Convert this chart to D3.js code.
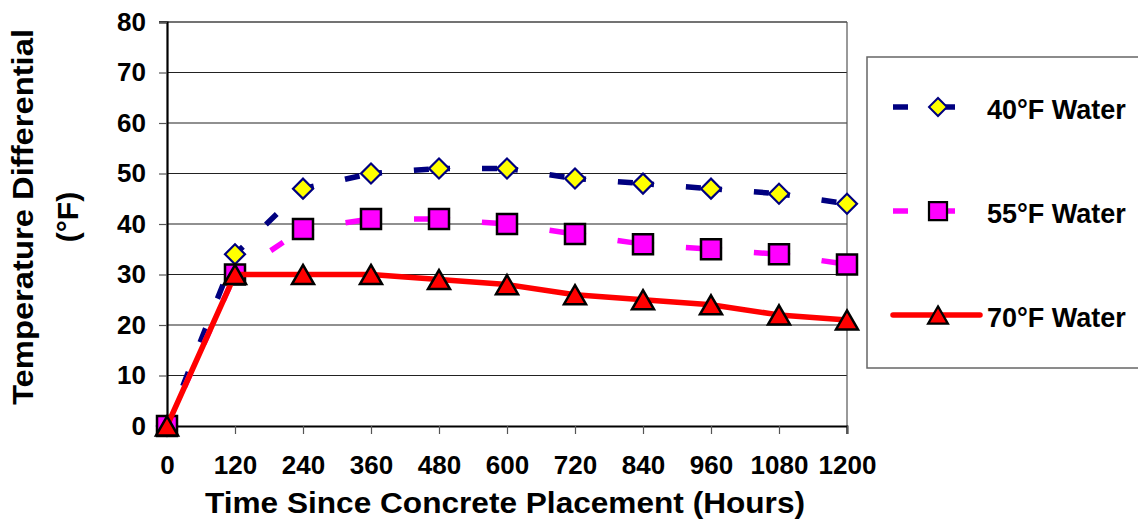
<!DOCTYPE html>
<html>
<head>
<meta charset="utf-8">
<script src="https://cdn.jsdelivr.net/npm/d3@7"></script>
<style>
  body { margin: 0; background: #fff; }
  text { font-family: "Liberation Sans", Arial, sans-serif; font-weight: bold; fill: #000; }
</style>
</head>
<body>
<div id="chart"></div>
<script>
// data
const hours = [0, 120, 240, 360, 480, 600, 720, 840, 960, 1080, 1200];
const water40 = [0, 34, 47, 50, 51, 51, 49, 48, 47, 46, 44];
const water55 = [0, 30, 39, 41, 41, 40, 38, 36, 35, 34, 32];
const water70 = [0, 30, 30, 30, 29, 28, 26, 25, 24, 22, 21];
const yTicks = [0, 10, 20, 30, 40, 50, 60, 70, 80];
const seriesNames = ['40°F Water', '55°F Water', '70°F Water'];

const w = 1138, h = 520;
const svg = d3.select('#chart').append('svg').attr('width', w).attr('height', h);

let x = d3.scaleLinear().domain([0, 1200]).range([167, 847]);
let y = d3.scaleLinear().domain([0, 80]).range([426, 22]);

// gridlines
svg.append('g').selectAll('line')
  .data(yTicks.filter(d => d > 0 && d < 80))
  .enter().append('line')
  .attr('x1', x(0)).attr('x2', x(1200))
  .attr('y1', d => y(d)).attr('y2', d => y(d))
  .attr('stroke', '#222').attr('stroke-width', 1.2);

// frame top / right
svg.append('line').attr('x1', x(0) - 8).attr('x2', x(1200)).attr('y1', y(80)).attr('y2', y(80))
  .attr('stroke', '#444').attr('stroke-width', 1.5);
svg.append('line').attr('x1', x(1200)).attr('x2', x(1200)).attr('y1', y(80)).attr('y2', y(0) + 8)
  .attr('stroke', '#555').attr('stroke-width', 1.2);

// y axis
let yAxis = d3.axisLeft(y).tickValues(yTicks).tickSize(8).tickPadding(13);
let yg = svg.append('g').attr('transform', `translate(${x(0)},0)`).call(yAxis);
yg.select('.domain').attr('stroke', '#000').attr('stroke-width', 2.2);
yg.selectAll('.tick line').attr('stroke', '#555').attr('stroke-width', 1.2);
yg.selectAll('.tick text').attr('font-size', 26).attr('fill', '#000')
  .attr('font-family', '"Liberation Sans", Arial, sans-serif').attr('font-weight', 'bold');

// x axis
let xAxis = d3.axisBottom(x).tickValues(hours).tickFormat(d3.format('d')).tickSize(8).tickPadding(22);
let xg = svg.append('g').attr('transform', `translate(0,${y(0)})`).call(xAxis);
xg.select('.domain').attr('stroke', '#000').attr('stroke-width', 1.8);
xg.selectAll('.tick line').attr('stroke', '#555').attr('stroke-width', 1.2);
xg.selectAll('.tick text').attr('font-size', 26).attr('fill', '#000')
  .attr('font-family', '"Liberation Sans", Arial, sans-serif').attr('font-weight', 'bold');

// axis titles
svg.append('text')
  .attr('x', 505).attr('y', 513)
  .attr('text-anchor', 'middle')
  .attr('font-size', 29)
  .attr('textLength', 600).attr('lengthAdjust', 'spacingAndGlyphs')
  .text('Time Since Concrete Placement (Hours)');

let yt = svg.append('g').attr('transform', 'translate(33, 217) rotate(-90)');
yt.append('text')
  .attr('x', 0).attr('y', 0)
  .attr('text-anchor', 'middle')
  .attr('font-size', 30)
  .attr('textLength', 376).attr('lengthAdjust', 'spacingAndGlyphs')
  .text('Temperature Differential');
yt.append('text')
  .attr('x', 0).attr('y', 45)
  .attr('text-anchor', 'middle')
  .attr('font-size', 30)
  .text('(°F)');

// marker shapes
let diamond = d3.symbol().type(d3.symbolSquare).size(200);
let square = d3.symbol().type(d3.symbolSquare).size(400);
let triSize = 210;
let triangle = d3.symbol().type(d3.symbolTriangle).size(triSize);
let triShift = Math.sqrt(triSize / (Math.sqrt(3) * 3)) / 2;

const series = [
  { name: seriesNames[0], values: water40, color: '#000080', dash: '15,32',
    marker: (g) => g.append('path').attr('d', diamond).attr('transform', 'rotate(45)')
      .attr('fill', '#ffff00').attr('stroke', '#000080').attr('stroke-width', 2.2) },
  { name: seriesNames[1], values: water55, color: '#ff00ff', dash: '15,32',
    marker: (g) => g.append('path').attr('d', square)
      .attr('fill', '#ff00ff').attr('stroke', '#000').attr('stroke-width', 2.5) },
  { name: seriesNames[2], values: water70, color: '#ff0000', dash: null,
    marker: (g) => g.append('path').attr('d', triangle).attr('transform', `translate(0,${triShift})`)
      .attr('fill', '#ff0000').attr('stroke', '#000').attr('stroke-width', 2.5) }
];

series.forEach(s => {
  let pts = hours.map((hr, i) => [x(hr), y(s.values[i])]);
  let sg = svg.append('g');
  if (s.dash) {
    // dash pattern restarts on every segment
    sg.selectAll('line')
      .data(d3.pairs(pts))
      .enter().append('line')
      .attr('x1', d => d[0][0]).attr('y1', d => d[0][1])
      .attr('x2', d => d[1][0]).attr('y2', d => d[1][1])
      .attr('stroke', s.color).attr('stroke-width', 5.5)
      .attr('stroke-dasharray', s.dash).attr('stroke-dashoffset', 4);
  } else {
    sg.append('path')
      .attr('d', d3.line()(pts))
      .attr('fill', 'none').attr('stroke', s.color).attr('stroke-width', 5.5)
      .attr('stroke-linejoin', 'round');
  }
  pts.forEach(p => {
    let mg = sg.append('g').attr('transform', `translate(${p[0]},${p[1]})`);
    s.marker(mg);
  });
});

// legend
let lg = svg.append('g');
lg.append('rect')
  .attr('x', 867).attr('y', 57).attr('width', 290).attr('height', 311)
  .attr('fill', '#fff').attr('stroke', '#666').attr('stroke-width', 1.5);

let legendY = d3.scalePoint().domain(seriesNames).range([107, 315]);
series.forEach(s => {
  let ly = legendY(s.name);
  let row = lg.append('g');
  row.append('line')
    .attr('x1', 893).attr('x2', 980).attr('y1', ly).attr('y2', ly)
    .attr('stroke', s.color).attr('stroke-width', 5.5)
    .attr('stroke-linecap', s.dash ? 'butt' : 'round')
    .attr('stroke-dasharray', s.dash);
  let mg = row.append('g').attr('transform', `translate(938,${ly}) scale(0.9)`);
  s.marker(mg);
  row.append('text')
    .attr('x', 987).attr('y', ly + 12)
    .attr('font-size', 27)
    .text(s.name);
});
</script>
</body>
</html>
